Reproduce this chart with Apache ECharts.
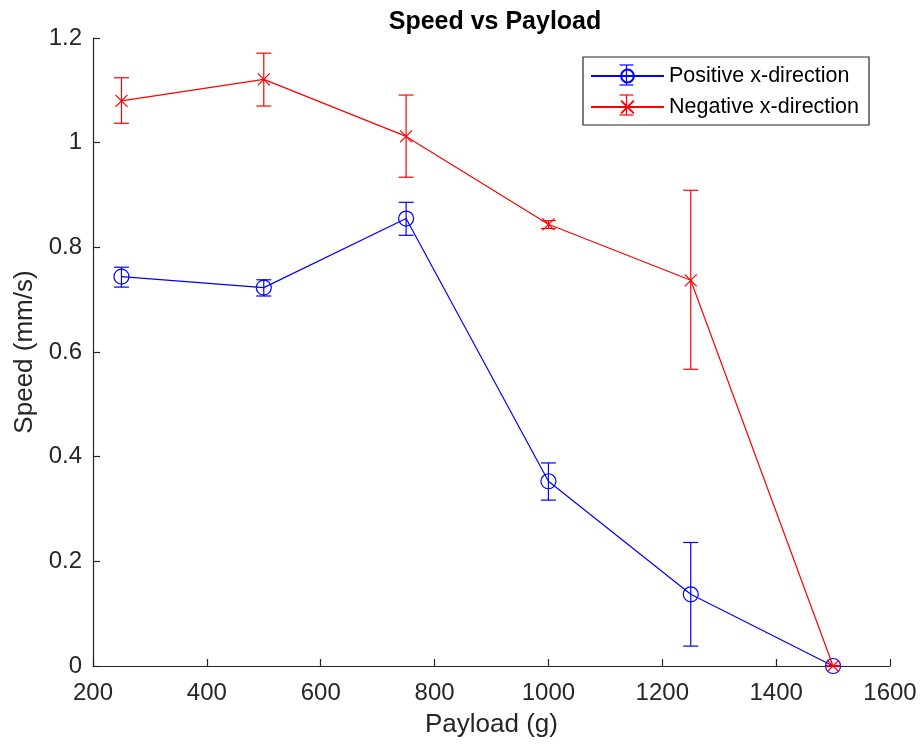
<!DOCTYPE html>
<html>
<head>
<meta charset="utf-8">
<script src="https://cdn.jsdelivr.net/npm/echarts@6/dist/echarts.min.js"></script>
<style>
  html, body { margin: 0; padding: 0; background: #fff; }
  #chart { width: 921px; height: 749px; }
</style>
</head>
<body>
<div id="chart"></div>
<script>
// payload in grams
const payload = [250, 500, 750, 1000, 1250, 1500]

// positive x-direction: mean speed and error bar ends (mm/s)
const posSpeed = [0.744, 0.723, 0.855, 0.353, 0.137, 0]
const posLow = [0.724, 0.707, 0.823, 0.317, 0.038, 0]
const posHigh = [0.762, 0.738, 0.886, 0.388, 0.236, 0]

// negative x-direction
const negSpeed = [1.080, 1.121, 1.012, 0.844, 0.737, 0]
const negLow = [1.037, 1.070, 0.934, 0.836, 0.567, 0]
const negHigh = [1.124, 1.171, 1.091, 0.851, 0.909, 0]

const xTicks = { min: 200, max: 1600, interval: 200 }
const yTicks = { min: 0, max: 1.2, interval: 0.2 }

const FONT = 'Liberation Sans, Arial, Helvetica, sans-serif'
const AXIS_COLOR = '#262626'
const BLUE = '#0000ff'
const RED = '#ff0000'

const chart = echarts.init(document.getElementById('chart'))

// error bars drawn via custom series
const errorBars = (color) => (params, api) => {
  const x = api.value(0)
  const lo = api.coord([x, api.value(1)])
  const hi = api.coord([x, api.value(2)])
  const half = 7.5
  const style = { stroke: color, lineWidth: 1.2 }
  return {
    type: 'group',
    children: [
      { type: 'line', shape: { x1: lo[0], y1: lo[1], x2: hi[0], y2: hi[1] }, style },
      { type: 'line', shape: { x1: lo[0] - half, y1: lo[1], x2: lo[0] + half, y2: lo[1] }, style },
      { type: 'line', shape: { x1: hi[0] - half, y1: hi[1], x2: hi[0] + half, y2: hi[1] }, style }
    ]
  }
}

// small error bar glyph on top of the legend icons
const legendBar = (cx, cy, color) => {
  const style = { stroke: color, lineWidth: 1.2 }
  return [
    { type: 'line', z: 100, shape: { x1: cx, y1: cy - 10, x2: cx, y2: cy + 10 }, style },
    { type: 'line', z: 100, shape: { x1: cx - 7, y1: cy - 10, x2: cx + 7, y2: cy - 10 }, style },
    { type: 'line', z: 100, shape: { x1: cx - 7, y1: cy + 10, x2: cx + 7, y2: cy + 10 }, style }
  ]
}

const axisCommon = {
  axisLine: { lineStyle: { color: AXIS_COLOR, width: 1.2 } },
  axisTick: { inside: true, length: 7, lineStyle: { color: AXIS_COLOR, width: 1.2 } },
  splitLine: { show: false },
  nameTextStyle: { color: AXIS_COLOR, fontFamily: FONT, fontSize: 26 }
}

const option = {
  animation: false,
  backgroundColor: '#fff',
  title: {
    text: 'Speed vs Payload',
    left: 495,
    textAlign: 'center',
    top: 10,
    padding: 0,
    textStyle: { fontFamily: FONT, fontSize: 25, fontWeight: 'bold', color: '#000' }
  },
  grid: {
    left: 93,
    right: 31,
    top: 38,
    bottom: 83
  },
  legend: {
    orient: 'vertical',
    left: 583,
    top: 57,
    padding: [7, 10, 6, 7],
    itemGap: 7,
    itemWidth: 73,
    itemHeight: 16,
    borderColor: AXIS_COLOR,
    borderWidth: 1.2,
    backgroundColor: '#fff',
    textStyle: { fontFamily: FONT, fontSize: 21.5, color: '#000', lineHeight: 24 },
    data: ['Positive x-direction', 'Negative x-direction']
  },
  graphic: [
    ...legendBar(626.5, 75, BLUE),
    ...legendBar(626.5, 105, RED)
  ],
  xAxis: {
    type: 'value',
    min: xTicks.min,
    max: xTicks.max,
    interval: xTicks.interval,
    name: 'Payload (g)',
    nameLocation: 'middle',
    nameGap: 46,
    axisLabel: { color: AXIS_COLOR, fontFamily: FONT, fontSize: 24, margin: 15, formatter: (v) => String(v) },
    ...axisCommon
  },
  yAxis: {
    type: 'value',
    min: yTicks.min,
    max: yTicks.max,
    interval: yTicks.interval,
    name: 'Speed (mm/s)',
    nameLocation: 'middle',
    nameGap: 52,
    axisLabel: { color: AXIS_COLOR, fontFamily: FONT, fontSize: 24, margin: 11 },
    ...axisCommon
  },
  series: [
    {
      name: 'Positive x-direction',
      type: 'line',
      data: payload.map((x, i) => [x, posSpeed[i]]),
      symbol: 'circle',
      symbolSize: 15,
      lineStyle: { color: BLUE, width: 1.2 },
      itemStyle: { color: 'rgba(0,0,0,0)', borderColor: BLUE, borderWidth: 1.2 },
      z: 3
    },
    {
      type: 'custom',
      renderItem: errorBars(BLUE),
      data: payload.map((x, i) => [x, posLow[i], posHigh[i]]),
      z: 3
    },
    {
      name: 'Negative x-direction',
      type: 'line',
      data: payload.map((x, i) => [x, negSpeed[i]]),
      symbol: 'path://M0,0L10,10M10,0L0,10',
      symbolSize: 12,
      lineStyle: { color: RED, width: 1.2 },
      itemStyle: { color: RED, borderColor: RED, borderWidth: 1.2 },
      z: 4
    },
    {
      type: 'custom',
      renderItem: errorBars(RED),
      data: payload.map((x, i) => [x, negLow[i], negHigh[i]]),
      z: 4
    }
  ]
}

chart.setOption(option)
</script>
</body>
</html>
